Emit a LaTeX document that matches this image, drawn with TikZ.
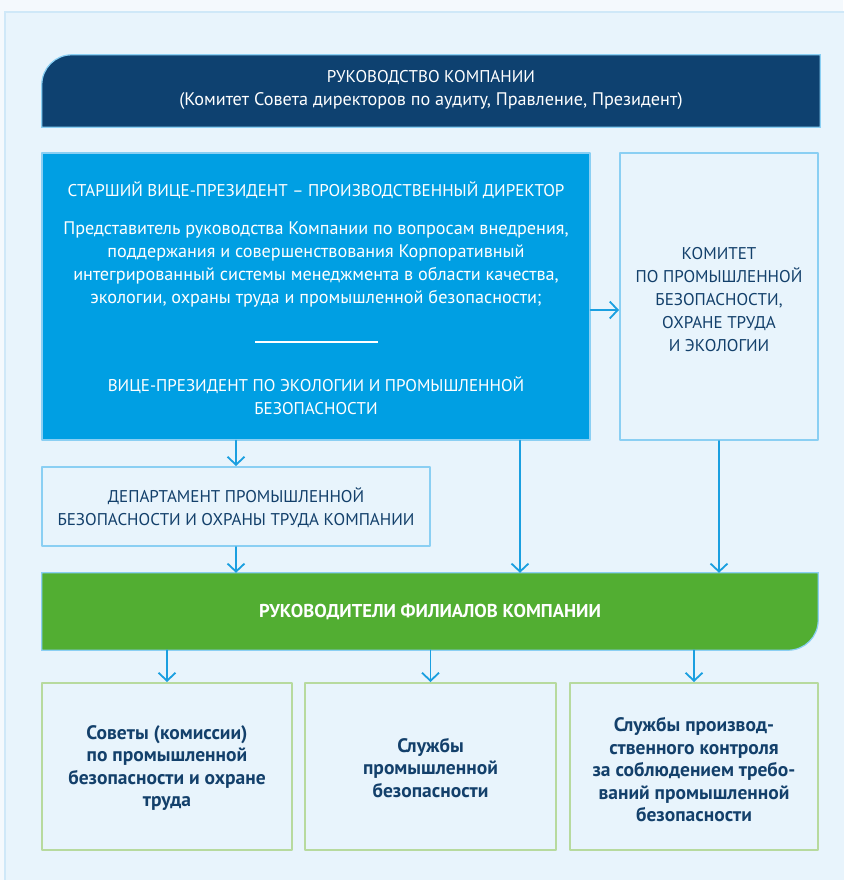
\documentclass[tikz,border=0pt]{standalone}
\usepackage{fontspec}
\setmainfont{PT Sans}
\usetikzlibrary{arrows.meta,backgrounds}
\definecolor{pagebg}{HTML}{F4F9FD}
\definecolor{panelbg}{HTML}{E8F4FC}
\definecolor{panelline}{HTML}{CFE8F8}
\definecolor{navy}{HTML}{0E4170}
\definecolor{inkblue}{HTML}{13406B}
\definecolor{brightblue}{HTML}{009FE3}
\definecolor{edgeblue}{HTML}{8ACFF3}
\definecolor{arrowblue}{HTML}{1A9FE0}
\definecolor{leafgreen}{HTML}{52AE32}
\definecolor{edgegreen}{HTML}{B7DA9E}

\begin{document}
\begin{tikzpicture}[line cap=round,line join=round,x=1pt,y=-1pt,
  >={Straight Barb[length=8pt,width=17pt]},
  flow/.style={->,draw=arrowblue,line width=1.8pt},
  frame/.style={rectangle,inner sep=0pt},
  caps/.style={align=center,inner sep=0pt,font=\fontsize{17}{23}\selectfont},
  plain/.style={align=center,inner sep=0pt,font=\fontsize{18.2}{23}\selectfont},
  boldtxt/.style={align=center,inner sep=0pt,text=inkblue,font=\bfseries\fontsize{19.5}{22.5}\selectfont},
  leafbox/.style={frame,draw=edgegreen,line width=2pt,minimum height=167pt}]
\useasboundingbox (0,0) rectangle (843,880);

% management
\node[frame,minimum width=778pt,minimum height=72pt] (head) at (431,91) {};
\node[plain,text=white] (headtxt) at (431,90) {{\fontsize{17}{23}\selectfont РУКОВОДСТВО КОМПАНИИ}\\(Комитет Совета директоров по аудиту, Правление, Президент)};

% senior vice president
\node[frame,fill=brightblue,draw=edgeblue,line width=1.2pt,minimum width=548pt,minimum height=287pt] (svp) at (316,296.5) {};
\node[caps,text=white] (svptitle) at (316,190) {СТАРШИЙ ВИЦЕ-ПРЕЗИДЕНТ – ПРОИЗВОДСТВЕННЫЙ ДИРЕКТОР};
\node[plain,text=white] (svptext) at (316,264) {Представитель руководства Компании по вопросам внедрения,\\поддержания и совершенствования Корпоративный\\интегрированный системы менеджмента в области качества,\\экологии, охраны труда и промышленной безопасности;};
\draw[white,line width=2pt,line cap=butt] (255,342) -- (378,342);
\node[caps,text=white] (vptitle) at (316,396) {ВИЦЕ-ПРЕЗИДЕНТ ПО ЭКОЛОГИИ И ПРОМЫШЛЕННОЙ\\БЕЗОПАСНОСТИ};

% committee
\node[frame,draw=edgeblue,line width=2pt,minimum width=198pt,minimum height=287pt] (comm) at (719,296.5) {};
\node[caps,text=inkblue] (commtxt) at (719,300) {КОМИТЕТ\\ПО ПРОМЫШЛЕННОЙ\\БЕЗОПАСНОСТИ,\\ОХРАНЕ ТРУДА\\И ЭКОЛОГИИ};

% department
\node[frame,draw=edgeblue,line width=2pt,minimum width=388pt,minimum height=79pt] (dept) at (236,506.5) {};
\node[caps,text=inkblue] (depttxt) at (236,508) {ДЕПАРТАМЕНТ ПРОМЫШЛЕННОЙ\\БЕЗОПАСНОСТИ И ОХРАНЫ ТРУДА КОМПАНИИ};

% branch heads
\node[frame,minimum width=776pt,minimum height=77pt] (heads) at (430,611.5) {};
\node[caps,text=white,font=\bfseries\fontsize{18.6}{23}\selectfont] (headstxt) at (430,612) {РУКОВОДИТЕЛИ ФИЛИАЛОВ КОМПАНИИ};

% bottom row
\node[leafbox,minimum width=250pt] (b1) at (167,766.5) {};
\node[boldtxt] (b1txt) at (167,768) {Советы (комиссии)\\по промышленной\\безопасности и охране\\труда};
\node[leafbox,minimum width=251pt] (b2) at (430.5,766.5) {};
\node[boldtxt] (b2txt) at (430.5,768) {Службы\\промышленной\\безопасности};
\node[leafbox,minimum width=248pt] (b3) at (694,766.5) {};
\node[boldtxt] (b3txt) at (694,770) {Службы производ-\\ственного контроля\\за соблюдением требо-\\ваний промышленной\\безопасности};

\begin{scope}[on background layer]
\fill[pagebg] (0,0) rectangle (843,880);
\draw[line width=1.5pt,draw=panelline,fill=panelbg] (5,12) rectangle (860,900);
\fill[navy] (head.south west) [rounded corners=30pt] -- (head.north west) [sharp corners] -- (head.north east) -- (head.south east) -- cycle;
\draw[edgeblue,line width=1.2pt] (head.south west) [rounded corners=30pt] -- (head.north west) [sharp corners] -- (head.north east) -- (head.south east) -- cycle;
\fill[leafgreen] (heads.north west) -- (heads.north east) [rounded corners=30pt] -- (heads.south east) [sharp corners] -- (heads.south west) -- cycle;
\draw[edgeblue,line width=1.2pt] (heads.north west) -- (heads.north east) [rounded corners=30pt] -- (heads.south east) [sharp corners] -- (heads.south west) -- cycle;
\end{scope}

% connectors
\draw[flow] ([yshift=-13.5pt]svp.east) -- ([yshift=-13.5pt]comm.west);
\draw[flow] (dept.north |- svp.south) -- (dept.north);
\draw[flow] (dept.south) -- (dept.south |- heads.north);
\draw[flow] ([xshift=204pt]svp.south) -- ([xshift=204pt]svp.south |- heads.north);
\draw[flow] (comm.south) -- (comm.south |- heads.north);
\draw[flow] (b1.north |- heads.south) -- (b1.north);
\draw[flow] (b2.north |- heads.south) -- (b2.north);
\draw[flow] (b3.north |- heads.south) -- (b3.north);
\end{tikzpicture}
\end{document}
